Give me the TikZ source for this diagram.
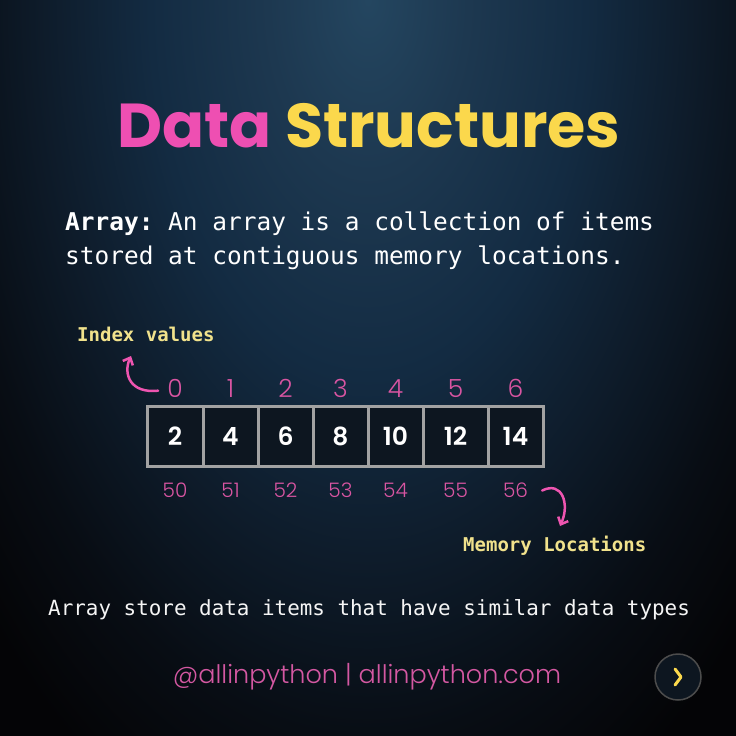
\documentclass[tikz,border=0pt]{standalone}
\usepackage{fontspec}
\setmainfont{Poppins}
\setmonofont{DejaVu Sans Mono}
\newfontfamily\poplight{Poppins Light}
\newfontfamily\popsemi{Poppins SemiBold}
\usetikzlibrary{positioning,calc,arrows.meta}

\definecolor{titlepink}{HTML}{EE4FB2}
\definecolor{titleyellow}{HTML}{FBD84C}
\definecolor{idxpink}{HTML}{D955A2}
\definecolor{arrowpink}{HTML}{EE55B0}
\definecolor{labelyellow}{HTML}{F1E28C}
\definecolor{cellgray}{HTML}{A2A2A2}
\definecolor{cellfill}{HTML}{0D1620}
\definecolor{footpink}{HTML}{D458A2}
\definecolor{bgtop}{HTML}{244660}
\definecolor{bgupper}{HTML}{1D3850}
\definecolor{bgmid}{HTML}{132B42}
\definecolor{bglow}{HTML}{0E1C2B}
\definecolor{bgdeep}{HTML}{080D14}
\definecolor{bgdark}{HTML}{040406}

\pgfdeclareradialshading{bgglow}{\pgfpoint{0bp}{0bp}}{color(0bp)=(bgtop);
  color(4.8bp)=(bgupper); color(10.5bp)=(bgmid); color(15.5bp)=(bglow);
  color(20.5bp)=(bgdeep); color(25bp)=(bgdark); color(50bp)=(bgdark)}

\tikzset{cell/.style={rectangle, draw=cellgray, fill=cellfill, line width=3pt,
    outer sep=0pt, minimum height=60pt, text=white,
    font=\fontsize{25}{25}\popsemi},
  idx/.style={inner sep=0pt, text=idxpink, font=\fontsize{25}{25}\poplight},
  addr/.style={inner sep=0pt, text=idxpink, font=\fontsize{20}{20}\poplight},
  note/.style={inner sep=0pt, anchor=base west, text=labelyellow,
    font=\fontsize{19}{19}\selectfont\ttfamily\bfseries},
  curvarrow/.style={-{Straight Barb[length=6pt,width=11pt]}, line width=2.5pt,
    draw=arrowpink, line cap=round}
}

\begin{document}
\begin{tikzpicture}[x=1pt, y=-1pt]

   \useasboundingbox (0,0) rectangle (736,736);
   %Background
   \fill [bgdark] (0,0) rectangle (736,736);
   \begin{scope}
     \clip (0,0) rectangle (736,736);
     \shade [shading=bgglow] (368,0) ellipse (520pt and 900pt);
   \end{scope}

   %Title node
   \node (title) [inner sep=0pt, anchor=base, font=\fontsize{62}{62}\selectfont\bfseries]
     at (369,147) {\textcolor{titlepink}{Data} \textcolor{titleyellow}{Structures}};

   %Definition node
   \node (defn) [inner sep=0pt, anchor=north west, align=left, text=white,
     font=\fontsize{24.45}{34}\selectfont\ttfamily] at (65,212)
   {
      \textbf{Array:} An array is a collection of items\\
      stored at contiguous memory locations.
   };

   %Array cells with index and address
   \foreach \val/\xl/\xr/\addrval [count=\i from 0] in
     {2/147/203/50, 4/203/258/51, 6/258/313/52, 8/313/368/53,
      10/368/423/54, 12/423/488/55, 14/488/543/56}
   {
      \pgfmathsetmacro\cw{\xr-\xl}
      \node (c\i) [cell, minimum width=\cw pt] at ({(\xl+\xr)/2},436) {\val};
      \node (i\i) [idx, above=8pt of c\i] {\i};
      \node (a\i) [addr, below=17pt of c\i] {\addrval};
   }

   %Labels
   \node (idxlbl) [note] at (77,341) {Index values};
   \node (memlbl) [note] at (463,551) {Memory Locations};
   \coordinate (idxtip) at (131,356);
   \coordinate (memtip) at (560,526);

   \draw [curvarrow] ([xshift=-9pt,yshift=-2pt]i0.west) .. controls +(-28,3) and +(-8,18) .. (idxtip);
   \draw [curvarrow] ([xshift=14pt]a6.east) .. controls +(20,-10) and +(10,-22) .. (memtip);

   %Summary node
   \node (summary) [inner sep=0pt, anchor=base west, text=white!92!gray,
     font=\fontsize{20.9}{20.9}\selectfont\ttfamily] at (48,615)
     {Array store data items that have similar data types};

   %Footer
   \node (footer) [inner sep=0pt, text=footpink, font=\fontsize{25.5}{25.5}\poplight]
     at (367,677) {@allinpython | allinpython.com};
   \node (nextbtn) [circle, draw=gray!60!black, fill=cellfill, line width=1.5pt,
     minimum size=46pt] at (678,677) {};
   \draw [titleyellow, line width=3pt, line cap=round, line join=round]
     ($(nextbtn.center)+(-3,-8)$) -- ++(6,8) -- ++(-6,8);

\end{tikzpicture}
\end{document}
